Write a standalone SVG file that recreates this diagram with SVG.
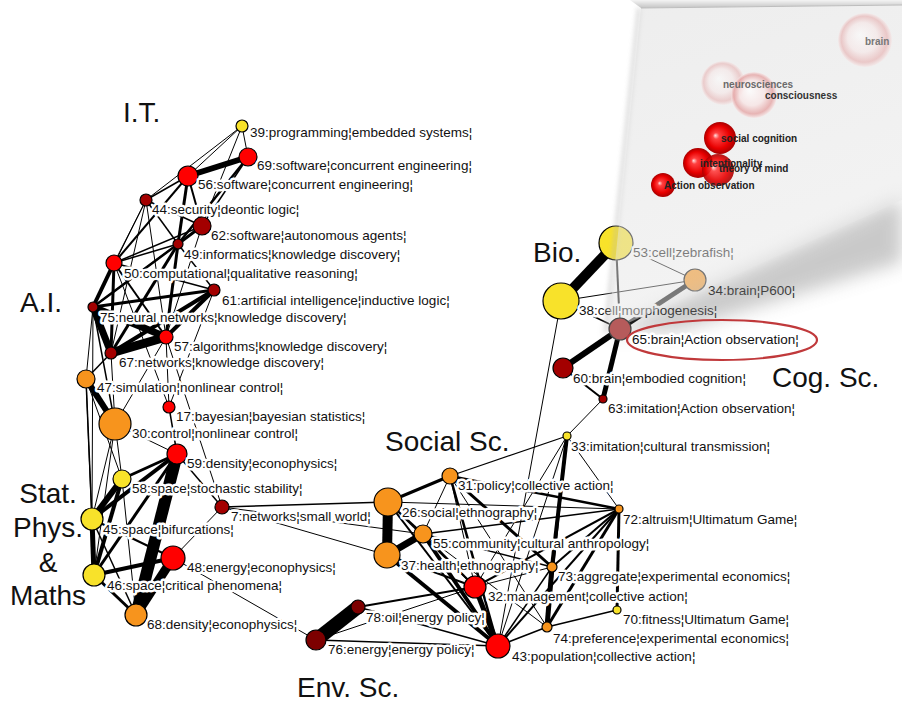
<svg xmlns="http://www.w3.org/2000/svg" width="902" height="702" viewBox="0 0 902 702">
<style>
.e{stroke:#000;fill:none}
.n{stroke:#000;stroke-width:1.2}
.Y{fill:#f8e22a}.O{fill:#f7941d}.R{fill:#ff0000}.D{fill:#a30000}.DD{fill:#7d0000}
.t{font-family:"Liberation Sans",Arial,sans-serif;font-size:13.5px;fill:#111;stroke:#fff;stroke-width:5;stroke-linejoin:round;paint-order:stroke}
.g{font-family:"Liberation Sans",Arial,sans-serif;font-size:28px;fill:#111}
.b{font-family:"Liberation Sans",Arial,sans-serif;font-size:10px;font-weight:bold;fill:#222}
</style>
<defs>
<radialGradient id="sph" cx="0.5" cy="0.5" r="0.5" fx="0.35" fy="0.42">
<stop offset="0" stop-color="#ffe0e0"/><stop offset="0.2" stop-color="#ff4040"/><stop offset="0.7" stop-color="#e80000"/><stop offset="1" stop-color="#a80000"/>
</radialGradient>
<radialGradient id="faint" cx="0.5" cy="0.5" r="0.5" fx="0.4" fy="0.4">
<stop offset="0" stop-color="#ffffff"/><stop offset="0.55" stop-color="#f8e4e4"/><stop offset="0.85" stop-color="#e4a0a0"/><stop offset="1" stop-color="#f6e6e6"/>
</radialGradient>
<linearGradient id="pageg" x1="0" y1="0" x2="0.3" y2="1">
<stop offset="0" stop-color="#dcdcdc"/><stop offset="1" stop-color="#e8e8e8"/>
</linearGradient>
<linearGradient id="topsh" x1="0" y1="0" x2="0" y2="1">
<stop offset="0" stop-color="#f4f4f4"/><stop offset="1" stop-color="#c4c4c4"/>
</linearGradient>
<filter id="blur" x="-20%" y="-20%" width="140%" height="140%"><feGaussianBlur stdDeviation="9"/></filter>
<filter id="blur2" x="-20%" y="-20%" width="140%" height="140%"><feGaussianBlur stdDeviation="2.5"/></filter>
</defs>
<rect width="902" height="702" fill="#fff"/>

<g id="connectors">
<line class="e" stroke-width="1" x1="242" y1="126" x2="146" y2="200"/>
<line class="e" stroke-width="1" x1="242" y1="126" x2="188" y2="176"/>
<line class="e" stroke-width="1" x1="242" y1="126" x2="248" y2="157"/>
<line class="e" stroke-width="1" x1="242" y1="126" x2="202" y2="226"/>
<line class="e" stroke-width="6" x1="188" y1="176" x2="248" y2="157"/>
<line class="e" stroke-width="1.5" x1="188" y1="176" x2="146" y2="200"/>
<line class="e" stroke-width="2" x1="188" y1="176" x2="114" y2="263"/>
<line class="e" stroke-width="3" x1="188" y1="176" x2="178" y2="244"/>
<line class="e" stroke-width="2" x1="188" y1="176" x2="202" y2="226"/>
<line class="e" stroke-width="2.5" x1="248" y1="157" x2="178" y2="244"/>
<line class="e" stroke-width="1.5" x1="248" y1="157" x2="202" y2="226"/>
<line class="e" stroke-width="1.5" x1="146" y1="200" x2="202" y2="226"/>
<line class="e" stroke-width="1.5" x1="146" y1="200" x2="178" y2="244"/>
<line class="e" stroke-width="1" x1="146" y1="200" x2="114" y2="263"/>
<line class="e" stroke-width="1" x1="146" y1="200" x2="93" y2="307"/>
<line class="e" stroke-width="1" x1="146" y1="200" x2="111" y2="353"/>
<line class="e" stroke-width="1" x1="146" y1="200" x2="166" y2="337"/>
<line class="e" stroke-width="3" x1="202" y1="226" x2="178" y2="244"/>
<line class="e" stroke-width="1.5" x1="202" y1="226" x2="114" y2="263"/>
<line class="e" stroke-width="1.5" x1="202" y1="226" x2="93" y2="307"/>
<line class="e" stroke-width="1" x1="202" y1="226" x2="166" y2="337"/>
<line class="e" stroke-width="1.5" x1="178" y1="244" x2="114" y2="263"/>
<line class="e" stroke-width="2.5" x1="178" y1="244" x2="93" y2="307"/>
<line class="e" stroke-width="3" x1="178" y1="244" x2="111" y2="353"/>
<line class="e" stroke-width="3" x1="178" y1="244" x2="166" y2="337"/>
<line class="e" stroke-width="1.5" x1="178" y1="244" x2="214" y2="290"/>
<line class="e" stroke-width="4" x1="114" y1="263" x2="93" y2="307"/>
<line class="e" stroke-width="1.5" x1="114" y1="263" x2="214" y2="290"/>
<line class="e" stroke-width="3" x1="114" y1="263" x2="111" y2="353"/>
<line class="e" stroke-width="2" x1="114" y1="263" x2="166" y2="337"/>
<line class="e" stroke-width="1" x1="114" y1="263" x2="169" y2="407"/>
<line class="e" stroke-width="3" x1="93" y1="307" x2="214" y2="290"/>
<line class="e" stroke-width="7" x1="93" y1="307" x2="166" y2="337"/>
<line class="e" stroke-width="7" x1="93" y1="307" x2="111" y2="353"/>
<line class="e" stroke-width="9" x1="111" y1="353" x2="166" y2="337"/>
<line class="e" stroke-width="4" x1="214" y1="290" x2="166" y2="337"/>
<line class="e" stroke-width="4" x1="214" y1="290" x2="111" y2="353"/>
<line class="e" stroke-width="1" x1="214" y1="290" x2="169" y2="407"/>
<line class="e" stroke-width="1" x1="93" y1="307" x2="86" y2="379"/>
<line class="e" stroke-width="1" x1="93" y1="307" x2="92" y2="519"/>
<line class="e" stroke-width="1.5" x1="93" y1="307" x2="115" y2="424"/>
<line class="e" stroke-width="1.5" x1="111" y1="353" x2="86" y2="379"/>
<line class="e" stroke-width="1" x1="111" y1="353" x2="115" y2="424"/>
<line class="e" stroke-width="1" x1="166" y1="337" x2="169" y2="407"/>
<line class="e" stroke-width="1" x1="166" y1="337" x2="115" y2="424"/>
<line class="e" stroke-width="1" x1="166" y1="337" x2="222" y2="507"/>
<line class="e" stroke-width="6" x1="86" y1="379" x2="115" y2="424"/>
<line class="e" stroke-width="1.5" x1="86" y1="379" x2="92" y2="519"/>
<line class="e" stroke-width="1" x1="86" y1="379" x2="94" y2="575"/>
<line class="e" stroke-width="1" x1="86" y1="379" x2="122" y2="479"/>
<line class="e" stroke-width="1" x1="115" y1="424" x2="122" y2="479"/>
<line class="e" stroke-width="1" x1="115" y1="424" x2="92" y2="519"/>
<line class="e" stroke-width="1" x1="115" y1="424" x2="94" y2="575"/>
<line class="e" stroke-width="1" x1="115" y1="424" x2="177" y2="454"/>
<line class="e" stroke-width="1.5" x1="169" y1="407" x2="177" y2="454"/>
<line class="e" stroke-width="6" x1="92" y1="519" x2="122" y2="479"/>
<line class="e" stroke-width="5" x1="92" y1="519" x2="94" y2="575"/>
<line class="e" stroke-width="4" x1="92" y1="519" x2="177" y2="454"/>
<line class="e" stroke-width="4" x1="94" y1="575" x2="122" y2="479"/>
<line class="e" stroke-width="3" x1="94" y1="575" x2="177" y2="454"/>
<line class="e" stroke-width="4" x1="94" y1="575" x2="173" y2="558"/>
<line class="e" stroke-width="2" x1="92" y1="519" x2="173" y2="558"/>
<line class="e" stroke-width="1.5" x1="92" y1="519" x2="136" y2="615"/>
<line class="e" stroke-width="3" x1="94" y1="575" x2="136" y2="615"/>
<line class="e" stroke-width="3" x1="122" y1="479" x2="177" y2="454"/>
<line class="e" stroke-width="1" x1="122" y1="479" x2="136" y2="615"/>
<line class="e" stroke-width="12" x1="177" y1="454" x2="136" y2="615"/>
<line class="e" stroke-width="9" x1="173" y1="558" x2="136" y2="615"/>
<line class="e" stroke-width="1.5" x1="177" y1="454" x2="222" y2="507"/>
<line class="e" stroke-width="1" x1="173" y1="558" x2="222" y2="507"/>
<line class="e" stroke-width="1" x1="173" y1="558" x2="316" y2="640"/>
<line class="e" stroke-width="1.5" x1="222" y1="507" x2="388" y2="502"/>
<line class="e" stroke-width="1" x1="222" y1="507" x2="387" y2="555"/>
<line class="e" stroke-width="1" x1="222" y1="507" x2="423" y2="534"/>
<line class="e" stroke-width="10" x1="388" y1="502" x2="387" y2="555"/>
<line class="e" stroke-width="2" x1="388" y1="502" x2="423" y2="534"/>
<line class="e" stroke-width="7" x1="387" y1="555" x2="423" y2="534"/>
<line class="e" stroke-width="3" x1="388" y1="502" x2="450" y2="476"/>
<line class="e" stroke-width="1.2" x1="450" y1="476" x2="567" y2="436"/>
<line class="e" stroke-width="2" x1="388" y1="502" x2="498" y2="646"/>
<line class="e" stroke-width="4" x1="387" y1="555" x2="498" y2="646"/>
<line class="e" stroke-width="4" x1="423" y1="534" x2="498" y2="646"/>
<line class="e" stroke-width="2" x1="387" y1="555" x2="475" y2="587"/>
<line class="e" stroke-width="2" x1="423" y1="534" x2="475" y2="587"/>
<line class="e" stroke-width="1.5" x1="388" y1="502" x2="475" y2="587"/>
<line class="e" stroke-width="1" x1="450" y1="476" x2="423" y2="534"/>
<line class="e" stroke-width="2.5" x1="450" y1="476" x2="498" y2="646"/>
<line class="e" stroke-width="2.5" x1="450" y1="476" x2="619" y2="509"/>
<line class="e" stroke-width="3" x1="450" y1="476" x2="552" y2="567"/>
<line class="e" stroke-width="1" x1="450" y1="476" x2="547" y2="627"/>
<line class="e" stroke-width="1" x1="450" y1="476" x2="475" y2="587"/>
<line class="e" stroke-width="1" x1="388" y1="502" x2="619" y2="509"/>
<line class="e" stroke-width="4" x1="567" y1="436" x2="552" y2="567"/>
<line class="e" stroke-width="2" x1="567" y1="436" x2="547" y2="627"/>
<line class="e" stroke-width="1" x1="567" y1="436" x2="619" y2="509"/>
<line class="e" stroke-width="1" x1="567" y1="436" x2="475" y2="587"/>
<line class="e" stroke-width="1" x1="567" y1="436" x2="498" y2="646"/>
<line class="e" stroke-width="1" x1="567" y1="436" x2="603" y2="399"/>
<line class="e" stroke-width="3" x1="619" y1="509" x2="547" y2="627"/>
<line class="e" stroke-width="2" x1="619" y1="509" x2="498" y2="646"/>
<line class="e" stroke-width="2" x1="619" y1="509" x2="552" y2="567"/>
<line class="e" stroke-width="2" x1="619" y1="509" x2="475" y2="587"/>
<line class="e" stroke-width="1.5" x1="619" y1="509" x2="423" y2="534"/>
<line class="e" stroke-width="3" x1="619" y1="509" x2="617" y2="610"/>
<line class="e" stroke-width="1.5" x1="423" y1="534" x2="552" y2="567"/>
<line class="e" stroke-width="1" x1="423" y1="534" x2="547" y2="627"/>
<line class="e" stroke-width="5" x1="552" y1="567" x2="547" y2="627"/>
<line class="e" stroke-width="1.5" x1="552" y1="567" x2="498" y2="646"/>
<line class="e" stroke-width="1.5" x1="547" y1="627" x2="498" y2="646"/>
<line class="e" stroke-width="1.5" x1="617" y1="610" x2="547" y2="627"/>
<line class="e" stroke-width="5" x1="475" y1="587" x2="498" y2="646"/>
<line class="e" stroke-width="1" x1="475" y1="587" x2="552" y2="567"/>
<line class="e" stroke-width="14" x1="316" y1="640" x2="358" y2="607"/>
<line class="e" stroke-width="2" x1="358" y1="607" x2="475" y2="587"/>
<line class="e" stroke-width="1.5" x1="358" y1="607" x2="498" y2="646"/>
<line class="e" stroke-width="1.5" x1="316" y1="640" x2="498" y2="646"/>
<line class="e" stroke-width="1" x1="316" y1="640" x2="475" y2="587"/>
<line class="e" stroke-width="1" x1="561" y1="301" x2="498" y2="646"/>
<line class="e" stroke-width="10" x1="616" y1="243" x2="561" y2="301"/>
<line class="e" stroke-width="2" x1="616" y1="243" x2="620" y2="329"/>
<line class="e" stroke-width="1" x1="616" y1="243" x2="695" y2="280"/>
<line class="e" stroke-width="1" x1="561" y1="301" x2="695" y2="280"/>
<line class="e" stroke-width="5" x1="695" y1="280" x2="620" y2="329"/>
<line class="e" stroke-width="1.5" x1="561" y1="301" x2="620" y2="329"/>
<line class="e" stroke-width="6" x1="620" y1="329" x2="563" y2="368"/>
<line class="e" stroke-width="5" x1="620" y1="329" x2="603" y2="399"/>
<line class="e" stroke-width="2" x1="563" y1="368" x2="603" y2="399"/>
</g>

<g id="n39"><circle class="n Y" cx="242" cy="126" r="6"/><text class="t" x="250" y="137">39:programming¦embedded systems¦</text></g>
<g id="n69"><circle class="n R" cx="248" cy="157" r="9"/><text class="t" x="257" y="170">69:software¦concurrent engineering¦</text></g>
<g id="n56"><circle class="n R" cx="188" cy="176" r="10"/><text class="t" x="198" y="189">56:software¦concurrent engineering¦</text></g>
<g id="n44"><circle class="n D" cx="146" cy="200" r="6"/><text class="t" x="152" y="214">44:security¦deontic logic¦</text></g>
<g id="n62"><circle class="n D" cx="202" cy="226" r="9"/><text class="t" x="211" y="240">62:software¦autonomous agents¦</text></g>
<g id="n49"><circle class="n D" cx="178" cy="244" r="5"/><text class="t" x="184" y="259">49:informatics¦knowledge discovery¦</text></g>
<g id="n50"><circle class="n R" cx="114" cy="263" r="8"/><text class="t" x="124" y="278">50:computational¦qualitative reasoning¦</text></g>
<g id="n61"><circle class="n D" cx="214" cy="290" r="6"/><text class="t" x="222" y="305">61:artificial intelligence¦inductive logic¦</text></g>
<g id="n75"><circle class="n D" cx="93" cy="307" r="5"/><text class="t" x="100" y="322">75:neural networks¦knowledge discovery¦</text></g>
<g id="n57"><circle class="n R" cx="166" cy="337" r="7"/><text class="t" x="174" y="351">57:algorithms¦knowledge discovery¦</text></g>
<g id="n67"><circle class="n D" cx="111" cy="353" r="6"/><text class="t" x="119" y="367">67:networks¦knowledge discovery¦</text></g>
<g id="n47"><circle class="n O" cx="86" cy="379" r="9"/><text class="t" x="97" y="392">47:simulation¦nonlinear control¦</text></g>
<g id="n17"><circle class="n R" cx="169" cy="407" r="6"/><text class="t" x="176" y="421">17:bayesian¦bayesian statistics¦</text></g>
<g id="n30"><circle class="n O" cx="115" cy="424" r="16"/><text class="t" x="132" y="438">30:control¦nonlinear control¦</text></g>
<g id="n59"><circle class="n R" cx="177" cy="454" r="10"/><text class="t" x="187" y="468">59:density¦econophysics¦</text></g>
<g id="n58"><circle class="n Y" cx="122" cy="479" r="9"/><text class="t" x="132" y="493">58:space¦stochastic stability¦</text></g>
<g id="n7"><circle class="n D" cx="222" cy="507" r="7"/><text class="t" x="231" y="521">7:networks¦small world¦</text></g>
<g id="n45"><circle class="n Y" cx="92" cy="519" r="11"/><text class="t" x="103" y="534">45:space¦bifurcations¦</text></g>
<g id="n48"><circle class="n R" cx="173" cy="558" r="12"/><text class="t" x="187" y="572">48:energy¦econophysics¦</text></g>
<g id="n46"><circle class="n Y" cx="94" cy="575" r="11"/><text class="t" x="107" y="590">46:space¦critical phenomena¦</text></g>
<g id="n68"><circle class="n O" cx="136" cy="615" r="11"/><text class="t" x="147" y="629">68:density¦econophysics¦</text></g>
<g id="n76"><circle class="n DD" cx="316" cy="640" r="10"/><text class="t" x="328" y="654">76:energy¦energy policy¦</text></g>
<g id="n78"><circle class="n DD" cx="358" cy="607" r="7"/><text class="t" x="366" y="622">78:oil¦energy policy¦</text></g>
<g id="n32"><circle class="n R" cx="475" cy="587" r="11"/><text class="t" x="488" y="601">32:management¦collective action¦</text></g>
<g id="n43"><circle class="n R" cx="498" cy="646" r="12"/><text class="t" x="512" y="661">43:population¦collective action¦</text></g>
<g id="n37"><circle class="n O" cx="387" cy="555" r="13"/><text class="t" x="401" y="570">37:health¦ethnography¦</text></g>
<g id="n26"><circle class="n O" cx="388" cy="502" r="14"/><text class="t" x="402" y="517">26:social¦ethnography¦</text></g>
<g id="n55"><circle class="n O" cx="423" cy="534" r="9"/><text class="t" x="433" y="548">55:community¦cultural anthropology¦</text></g>
<g id="n31"><circle class="n O" cx="450" cy="476" r="8"/><text class="t" x="458" y="490">31:policy¦collective action¦</text></g>
<g id="n33"><circle class="n Y" cx="567" cy="436" r="4"/><text class="t" x="571" y="451">33:imitation¦cultural transmission¦</text></g>
<g id="n72"><circle class="n O" cx="619" cy="509" r="4"/><text class="t" x="623" y="524">72:altruism¦Ultimatum Game¦</text></g>
<g id="n73"><circle class="n O" cx="552" cy="567" r="5"/><text class="t" x="558" y="581">73:aggregate¦experimental economics¦</text></g>
<g id="n74"><circle class="n O" cx="547" cy="627" r="5"/><text class="t" x="553" y="643">74:preference¦experimental economics¦</text></g>
<g id="n70"><circle class="n Y" cx="617" cy="610" r="4"/><text class="t" x="623" y="624">70:fitness¦Ultimatum Game¦</text></g>
<g id="n53"><circle class="n Y" cx="616" cy="243" r="17"/><text class="t" x="633" y="257">53:cell¦zebrafish¦</text></g>
<g id="n34"><circle class="n" fill="#f7941d" cx="695" cy="280" r="11"/><text class="t" x="708" y="295">34:brain¦P600¦</text></g>
<g id="n38"><circle class="n Y" cx="561" cy="301" r="18"/><text class="t" x="579" y="315">38:cell¦morphogenesis¦</text></g>
<g id="n60"><circle class="n D" cx="563" cy="368" r="10"/><text class="t" x="573" y="383">60:brain¦embodied cognition¦</text></g>
<g id="n63"><circle class="n D" cx="603" cy="399" r="4"/><text class="t" x="608" y="413">63:imitation¦Action observation¦</text></g>

<g id="groups">
<text class="g" x="123" y="122">I.T.</text>
<text class="g" x="20" y="312">A.I.</text>
<text class="g" text-anchor="middle" x="48" y="503">Stat.</text>
<text class="g" text-anchor="middle" x="48" y="537">Phys.</text>
<text class="g" text-anchor="middle" x="48" y="572">&amp;</text>
<text class="g" text-anchor="middle" x="48" y="605">Maths</text>
<text class="g" x="385" y="451">Social Sc.</text>
<text class="g" x="533" y="262">Bio.</text>
<text class="g" x="772" y="387">Cog. Sc.</text>
<text class="g" x="297" y="697">Env. Sc.</text>
</g>

<g id="inset">
<polygon points="902,198 606,334 680,330 902,262" fill="#8a8a8a" opacity="0.45" filter="url(#blur)"/>
<polygon points="630,0 902,0 902,5 641,8" fill="url(#topsh)"/>
<line x1="639" y1="8" x2="606" y2="332" stroke="#b8b8b8" stroke-width="3" filter="url(#blur2)" opacity="0.7"/>
<polygon points="641,8 902,5 902,200 608,332" fill="url(#pageg)" fill-opacity="0.5"/>
<line x1="641" y1="8" x2="902" y2="5" stroke="#bdbdbd" stroke-width="1"/>
<circle cx="865" cy="40" r="27" fill="url(#faint)" opacity="0.5"/>
<circle cx="723" cy="83" r="22" fill="url(#faint)" opacity="0.45"/>
<circle cx="754" cy="95" r="23" fill="url(#faint)" opacity="0.75"/>
<circle cx="720" cy="138" r="16" fill="url(#sph)"/>
<circle cx="698" cy="163" r="15" fill="url(#sph)"/>
<circle cx="718" cy="170" r="16" fill="url(#sph)" opacity="0.9"/>
<circle cx="663" cy="185" r="12" fill="url(#sph)"/>
<text class="b" x="865" y="45" style="fill:#777">brain</text>
<text class="b" x="723" y="88" style="fill:#6a6a6a">neurosciences</text>
<text class="b" x="765" y="99" style="fill:#333">consciousness</text>
<text class="b" x="721" y="142">social cognition</text>
<text class="b" x="700" y="167">intentionality</text>
<text class="b" x="719" y="172">theory of mind</text>
<text class="b" x="664" y="189">Action observation</text>
</g>

<g id="n65"><circle cx="620" cy="329" r="11" fill="#b65b5b" stroke="#444" stroke-width="1.2"/><text class="t" x="632" y="344">65:brain¦Action observation¦</text></g>

<ellipse cx="722" cy="340" rx="95" ry="20" fill="none" stroke="#c0393b" stroke-width="2.2"/>
</svg>
